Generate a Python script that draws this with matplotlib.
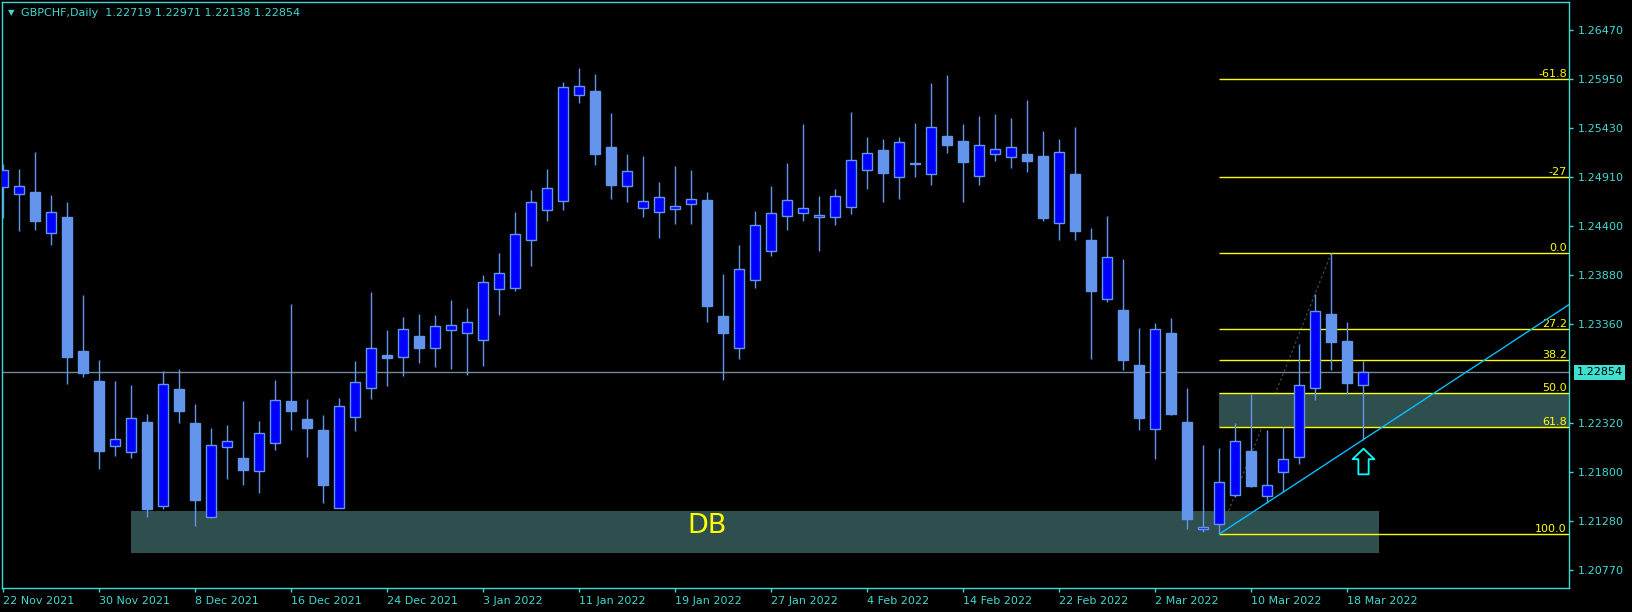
import numpy as np
import matplotlib
matplotlib.use("Agg")
import matplotlib.pyplot as plt
from matplotlib.patches import Rectangle
from matplotlib.path import Path
import matplotlib.transforms as mtransforms

# GBPCHF daily candles, 22 Nov 2021 .. 21 Mar 2022
opens = [1.24813, 1.24733, 1.24757, 1.24328, 1.24493, 1.23079, 1.22763, 1.22080, 1.22017, 1.22330,
         1.21447, 1.22678, 1.22320, 1.21324, 1.22063, 1.21947, 1.21810, 1.22105, 1.22552, 1.22362,
         1.22246, 1.21419, 1.22380, 1.22686, 1.23037, 1.23013, 1.23237, 1.23108, 1.23298, 1.23266,
         1.23192, 1.23730, 1.23747, 1.24247, 1.24564, 1.24659, 1.25777, 1.25820, 1.25229, 1.24817,
         1.24585, 1.24543, 1.24575, 1.24627, 1.24669, 1.23445, 1.23108, 1.23825, 1.24131, 1.24501,
         1.24532, 1.24490, 1.24490, 1.24596, 1.24986, 1.25200, 1.24912, 1.25063, 1.24944, 1.25345,
         1.25295, 1.24929, 1.25155, 1.25129, 1.25155, 1.25134, 1.24433, 1.24944, 1.24247, 1.23625,
         1.23512, 1.22932, 1.22259, 1.23266, 1.22330, 1.21198, 1.21250, 1.21557, 1.22024, 1.21546,
         1.21799, 1.21957, 1.22686, 1.23467, 1.23182, 1.22719]
highs = [1.25052, 1.24999, 1.25179, 1.24725, 1.24652, 1.23670, 1.22984, 1.22763, 1.22720, 1.22414,
         1.22868, 1.22889, 1.22520, 1.22267, 1.22298, 1.22552, 1.22341, 1.22773, 1.23575, 1.22573,
         1.22404, 1.22583, 1.22974, 1.23702, 1.23301, 1.23438, 1.23470, 1.23459, 1.23617, 1.23533,
         1.23881, 1.24113, 1.24546, 1.24778, 1.24999, 1.25919, 1.26065, 1.26002, 1.25591, 1.25158,
         1.25137, 1.24863, 1.25031, 1.24989, 1.24757, 1.23892, 1.24198, 1.24557, 1.24820, 1.25063,
         1.25475, 1.24715, 1.24789, 1.25601, 1.25337, 1.25316, 1.25337, 1.25485, 1.25907, 1.25992,
         1.25475, 1.25559, 1.25580, 1.25538, 1.25728, 1.25401, 1.25316, 1.25443, 1.24377, 1.24504,
         1.24050, 1.23322, 1.23372, 1.23427, 1.22686, 1.22084, 1.22056, 1.22320, 1.22625, 1.22245,
         1.22277, 1.23153, 1.23681, 1.24115, 1.23382, 1.22971]
lows = [1.24486, 1.24349, 1.24356, 1.24198, 1.22731, 1.22808, 1.21834, 1.21971, 1.21953, 1.21331,
        1.21415, 1.22323, 1.21236, 1.21315, 1.21732, 1.21668, 1.21584, 1.22038, 1.22249, 1.21964,
        1.21478, 1.21419, 1.22238, 1.22576, 1.22713, 1.22818, 1.22956, 1.22914, 1.22893, 1.22829,
        1.22925, 1.23462, 1.23715, 1.23979, 1.24454, 1.24570, 1.25699, 1.25045, 1.24686, 1.24655,
        1.24496, 1.24275, 1.24422, 1.24415, 1.23388, 1.22777, 1.22998, 1.23747, 1.24085, 1.24359,
        1.24454, 1.24138, 1.24412, 1.24528, 1.24792, 1.24655, 1.24686, 1.24918, 1.24834, 1.25172,
        1.24655, 1.24834, 1.25087, 1.25013, 1.24971, 1.24454, 1.24254, 1.24254, 1.22995, 1.23599,
        1.22882, 1.22242, 1.21943, 1.22407, 1.21204, 1.21173, 1.21148, 1.21540, 1.21647, 1.21474,
        1.21588, 1.21890, 1.22566, 1.22882, 1.22621, 1.22138]
closes = [1.24989, 1.24817, 1.24454, 1.24543, 1.23016, 1.22850, 1.22024, 1.22147, 1.22369, 1.21415,
          1.22728, 1.22449, 1.21510, 1.22084, 1.22127, 1.21827, 1.22211, 1.22559, 1.22449, 1.22270,
          1.21669, 1.22496, 1.22749, 1.23108, 1.23009, 1.23308, 1.23114, 1.23340, 1.23350, 1.23382,
          1.23804, 1.23899, 1.24311, 1.24648, 1.24796, 1.25862, 1.25872, 1.25161, 1.24834, 1.24975,
          1.24659, 1.24701, 1.24606, 1.24680, 1.23557, 1.23272, 1.23941, 1.24406, 1.24532, 1.24669,
          1.24585, 1.24511, 1.24712, 1.25092, 1.25165, 1.24961, 1.25281, 1.25049, 1.25440, 1.25256,
          1.25077, 1.25250, 1.25208, 1.25229, 1.25087, 1.24486, 1.25176, 1.24349, 1.23715, 1.24068,
          1.22987, 1.22375, 1.23308, 1.22417, 1.21310, 1.21219, 1.21694, 1.22126, 1.21655, 1.21662,
          1.21936, 1.22717, 1.23498, 1.23177, 1.22745, 1.22854]

date_labels = ["22 Nov 2021", "30 Nov 2021", "8 Dec 2021", "16 Dec 2021", "24 Dec 2021",
               "3 Jan 2022", "11 Jan 2022", "19 Jan 2022", "27 Jan 2022", "4 Feb 2022",
               "14 Feb 2022", "22 Feb 2022", "2 Mar 2022", "10 Mar 2022", "18 Mar 2022"]
date_every = 6

price_ticks = [1.26470, 1.25950, 1.25430, 1.24910, 1.24400, 1.23880, 1.23360,
               1.22320, 1.21800, 1.21280, 1.20770]
last_price = 1.22854

# fibonacci retracement drawn from the 7 Mar low to the 15 Mar high
fib_start, fib_end = 76, 83
fib_low, fib_high = 1.21148, 1.24115
fib_levels = [-61.8, -27, 0.0, 27.2, 38.2, 50.0, 61.8, 100.0]
fib_names = ["-61.8", "-27", "0.0", "27.2", "38.2", "50.0", "61.8", "100.0"]

# demand zone "DB"
db_bars = (8, 86)
db_prices = (1.20951, 1.21391)
db_text_pos = (44, 1.21156)

# trend line through two lows
trend_bars = (76, 85)
trend_prices = (1.21148, 1.22145)

arrow_bar, arrow_price = 85, 1.21920

BG = "black"
FG = "#40D8D0"
BULL = "#0000FF"
WICK = "#6495ED"
ZONE = "#2F4F4F"
YEL = "#FFFF00"

W, H = 1633, 612
fig = plt.figure(figsize=(W / 100, H / 100), dpi=100, facecolor=BG)
ax = fig.add_axes([2 / W, 24 / H, 1567 / W, 586 / H], facecolor=BG)

xmin, xmax = -0.08, 97.85
ax.set_xlim(xmin, xmax)
ax.set_ylim(1.20578, 1.26762)

n = len(opens)
x = np.arange(n)
o = np.array(opens); c = np.array(closes)
hi = np.array(highs); lo = np.array(lows)

# background objects
ax.add_patch(Rectangle((db_bars[0], db_prices[0]), db_bars[1] - db_bars[0],
                       db_prices[1] - db_prices[0], facecolor=ZONE, edgecolor="none", zorder=1))

fib_price = [fib_high - lv / 100 * (fib_high - fib_low) for lv in fib_levels]
p50 = fib_price[fib_levels.index(50.0)]
p618 = fib_price[fib_levels.index(61.8)]
ax.add_patch(Rectangle((fib_start, p618), xmax - fib_start, p50 - p618,
                       facecolor=ZONE, edgecolor="none", zorder=1))
ax.plot([fib_start, fib_end], [fib_low, fib_high], color="#3a4a4a", lw=0.9,
        ls=(0, (2, 2)), zorder=0.9)

ax.axhline(last_price, color="#778899", lw=1, zorder=1.5)

ax.hlines(fib_price, fib_start, xmax, color=YEL, lw=1, zorder=2)
for pr, name in zip(fib_price, fib_names):
    ax.annotate(name, xy=(1, pr), xycoords=("axes fraction", "data"), xytext=(-1.5, 0),
                textcoords="offset points", ha="right", va="bottom", color=YEL, fontsize=8,
                zorder=2)

ax.text(db_text_pos[0], db_text_pos[1], "DB", color=YEL, fontsize=19.5,
        ha="center", va="baseline", zorder=2)

# candles
ax.vlines(x, lo, hi, color=WICK, lw=1, zorder=3)
up = c >= o
body_h = np.maximum(np.abs(c - o), 0.00008)
ax.bar(x, body_h, bottom=np.minimum(o, c), width=0.62,
       color=np.where(up, BULL, WICK), edgecolor=WICK, linewidth=1, zorder=4)

# trend line, extended to the right edge
slope = (trend_prices[1] - trend_prices[0]) / (trend_bars[1] - trend_bars[0])
ax.plot([trend_bars[0], xmax], [trend_prices[0], trend_prices[0] + slope * (xmax - trend_bars[0])],
        color="#00BFFF", lw=1, zorder=5)

# hollow up arrow
arrow = Path([(0, 1), (0.85, 0.18), (0.4, 0.18), (0.4, -1), (-0.4, -1), (-0.4, 0.18),
              (-0.85, 0.18), (0, 1)],
             [Path.MOVETO] + [Path.LINETO] * 6 + [Path.CLOSEPOLY])
ax.plot([arrow_bar], [arrow_price], marker=arrow, markersize=18.5, markerfacecolor=BG,
        markeredgecolor="#00FFFF", markeredgewidth=1.3, zorder=6)

# axes styling
for sp in ax.spines.values():
    sp.set_color(FG)
    sp.set_linewidth(1)
ax.yaxis.tick_right()
ax.set_yticks(price_ticks)
ax.set_yticklabels([f"{p:.5f}" for p in price_ticks])
ax.set_xticks(np.arange(len(date_labels)) * date_every)
ax.set_xticklabels(date_labels, ha="left")
ax.tick_params(colors=FG, labelsize=8, length=3, width=1)
ax.tick_params(axis="y", pad=3.2)
ax.tick_params(axis="x", pad=2.5)
for lab in ax.get_xticklabels():
    lab.set_color(FG)
for lab in ax.get_yticklabels():
    lab.set_color(FG)

ax.annotate(f"{last_price:.5f}", xy=(1, last_price), xycoords=("axes fraction", "data"),
            xytext=(5.3, 0), textcoords="offset points", ha="left", va="center",
            fontsize=8, color="black", zorder=10, annotation_clip=False,
            bbox=dict(boxstyle="square,pad=0.25", facecolor="#40E0D0", edgecolor="none"))

fig.text(8 / W, 1 - 12.5 / H, "▼", color=FG, fontsize=6, va="center", ha="left")
fig.text(21.5 / W, 1 - 12.7 / H, "GBPCHF,Daily  1.22719 1.22971 1.22138 1.22854",
         color=FG, fontsize=8, va="center", ha="left")

fig.savefig("out.png", dpi=100, facecolor=BG)
